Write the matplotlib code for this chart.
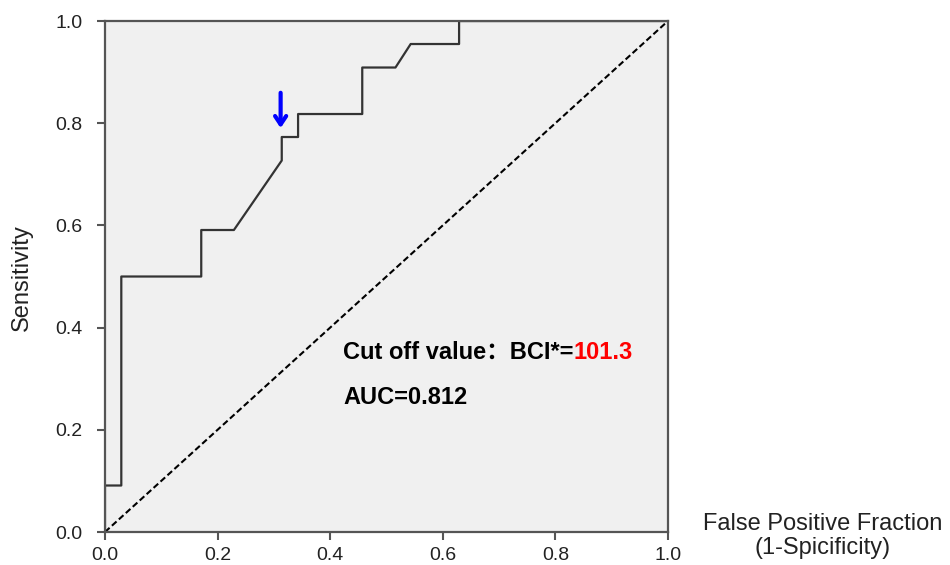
import numpy as np
import matplotlib.pyplot as plt

plt.rcParams['font.family'] = ['Liberation Sans', 'Noto Sans CJK SC', 'DejaVu Sans']

# ROC curve points
fpr = [0.0, 0.0, 0.029, 0.029, 0.171, 0.171, 0.229, 0.314, 0.314, 0.343, 0.343,
       0.457, 0.457, 0.516, 0.543, 0.629, 0.629, 1.0]
tpr = [0.0, 0.091, 0.091, 0.5, 0.5, 0.591, 0.591, 0.727, 0.773, 0.773, 0.818,
       0.818, 0.909, 0.909, 0.955, 0.955, 1.0, 1.0]
ticks = [0.0, 0.2, 0.4, 0.6, 0.8, 1.0]
tick_labels = ['0.0', '0.2', '0.4', '0.6', '0.8', '1.0']
cutoff_fpr = 0.312
cutoff_tpr = 0.785

fig = plt.figure(figsize=(9.5, 5.65), dpi=100)
ax = fig.add_axes([0.1105, 0.0584, 0.5926, 0.9044])
ax.set_facecolor('#f0f0f0')

ax.plot([0, 1], [0, 1], color='black', lw=1.5, ls=(0, (3, 1.5)))
ax.plot(fpr, tpr, color='#333333', lw=1.6)

ax.annotate('', xy=(cutoff_fpr, cutoff_tpr), xytext=(cutoff_fpr, cutoff_tpr + 0.08),
            arrowprops=dict(arrowstyle='->,head_length=0.6,head_width=0.4',
                            color='#0000ff', lw=3))

t = ax.text(0.423, 0.352, 'Cut off value：BCI*=', fontsize=17, fontweight='bold',
            va='center', ha='left')
ax.annotate('101.3', xy=(1, 0), xycoords=t, va='bottom', ha='left',
            fontsize=17, fontweight='bold', color='#ff0000')
ax.text(0.423, 0.264, 'AUC=0.812', fontsize=17, fontweight='bold', va='center', ha='left')

ax.set_xlim(0, 1)
ax.set_ylim(0, 1)
ax.set_xticks(ticks)
ax.set_xticklabels(tick_labels)
ax.set_yticks(ticks)
ax.set_yticklabels(tick_labels)
ax.tick_params(axis='both', direction='out', length=6, width=1.5, color='#555555',
               labelsize=14, labelcolor='#222222')
ax.tick_params(axis='x', pad=5)
ax.tick_params(axis='y', pad=10)
for s in ax.spines.values():
    s.set_color('#555555')
    s.set_linewidth(1.6)

fig.text(22 / 950, 1 - 278 / 565, 'Sensitivity', rotation=90, fontsize=17,
         ha='center', va='center', color='#222222')
fig.text(823 / 950, 1 - 536 / 565, 'False Positive Fraction\n(1-Spicificity)',
         fontsize=17, ha='center', va='center', color='#222222', linespacing=1.15)

fig.savefig('out.png', dpi=100)
